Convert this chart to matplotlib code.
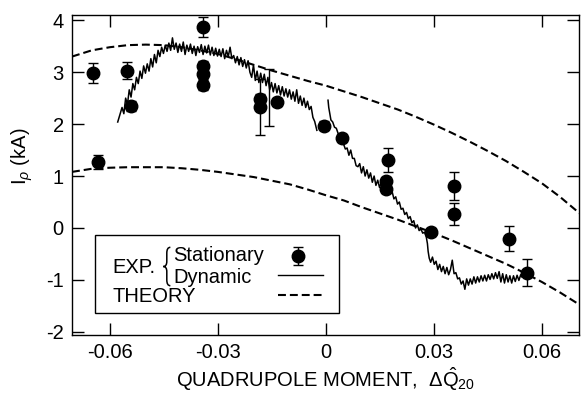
import numpy as np
import matplotlib
matplotlib.use("Agg")
from matplotlib import pyplot as plt
from matplotlib.path import Path
from matplotlib.patches import PathPatch

plt.rcParams['font.family'] = ['Liberation Sans', 'DejaVu Sans']
plt.rcParams['mathtext.fontset'] = 'custom'
plt.rcParams['mathtext.rm'] = 'Liberation Sans'
plt.rcParams['mathtext.it'] = 'Liberation Sans:italic'
plt.rcParams['axes.unicode_minus'] = False

# stationary measurements (x, y, y-error)
stat_x = [-0.0648, -0.0634, -0.0553, -0.0542, -0.0342, -0.0342, -0.0342, -0.0342,
          -0.0183, -0.0183, -0.0136, -0.0005, 0.0044, 0.0172, 0.0167, 0.0167,
          0.0356, 0.0356, 0.0292, 0.0508, 0.0558]
stat_y = [2.98, 1.27, 3.03, 2.35, 3.87, 3.12, 2.97, 2.75,
          2.48, 2.33, 2.42, 1.97, 1.73, 1.31, 0.90, 0.76,
          0.81, 0.27, -0.08, -0.21, -0.86]
stat_err = [0.19, 0.13, 0.17, 0.10, 0.20, 0.10, 0.10, 0.10,
            0.10, 0.54, 0.08, 0.08, 0.08, 0.23, 0.08, 0.08,
            0.27, 0.21, 0.08, 0.24, 0.26]

# lone error bar between the two points near -0.016
extra_x = [-0.0158]
extra_y = [2.51]
extra_err = [0.55]

# dynamic measurement, first sweep
dyn1_x = [-0.0578, -0.0572, -0.0566, -0.0561, -0.0556, -0.0551, -0.0546, -0.0541,
          -0.0536, -0.0531, -0.0526, -0.0521, -0.0516, -0.0511, -0.0506, -0.0501,
          -0.0496, -0.0491, -0.0486, -0.0481, -0.0476, -0.0471, -0.0466, -0.0461,
          -0.0456, -0.0451, -0.0446, -0.0441, -0.0436, -0.0431, -0.0426, -0.0421,
          -0.0416, -0.0411, -0.0406, -0.0401, -0.0396, -0.0391, -0.0386, -0.0381,
          -0.0376, -0.0371, -0.0366, -0.0361, -0.0356, -0.0351, -0.0346, -0.0341,
          -0.0336, -0.0331, -0.0326, -0.0321, -0.0316, -0.0311, -0.0306, -0.0301,
          -0.0296, -0.0291, -0.0286, -0.0281, -0.0276, -0.0271, -0.0266, -0.0261,
          -0.0256, -0.0251, -0.0246, -0.0241, -0.0236, -0.0231, -0.0226, -0.0221,
          -0.0216, -0.0211, -0.0206, -0.0201, -0.0196, -0.0191, -0.0186, -0.0181,
          -0.0176, -0.0171, -0.0166, -0.0161, -0.0156, -0.0151, -0.0146, -0.0141,
          -0.0136, -0.0131, -0.0126, -0.0121, -0.0116, -0.0111, -0.0106, -0.0101,
          -0.0096, -0.0091, -0.0086, -0.0081, -0.0076, -0.0071, -0.0066, -0.0061,
          -0.0056, -0.0051, -0.0046, -0.0041, -0.0036, -0.0031, -0.0025]
dyn1_y = [2.04, 2.18, 2.32, 2.20, 2.50, 2.38, 2.66, 2.52,
          2.78, 2.66, 2.90, 2.78, 3.02, 2.88, 3.12, 2.98,
          3.16, 3.02, 3.26, 3.10, 3.34, 3.18, 3.42, 3.30,
          3.48, 3.36, 3.52, 3.40, 3.56, 3.42, 3.66, 3.44,
          3.56, 3.38, 3.54, 3.40, 3.58, 3.34, 3.52, 3.40,
          3.54, 3.36, 3.50, 3.32, 3.49, 3.38, 3.53, 3.34,
          3.50, 3.37, 3.52, 3.33, 3.48, 3.32, 3.46, 3.31,
          3.44, 3.30, 3.45, 3.26, 3.42, 3.30, 3.48, 3.26,
          3.32, 3.18, 3.30, 3.14, 3.28, 3.11, 3.24, 3.08,
          3.22, 3.00, 2.90, 3.14, 2.84, 3.02, 2.80, 2.98,
          2.80, 2.96, 2.74, 2.90, 2.66, 2.80, 2.62, 2.78,
          2.60, 2.74, 2.56, 2.72, 2.54, 2.68, 2.52, 2.66,
          2.48, 2.62, 2.44, 2.66, 2.40, 2.54, 2.36, 2.50,
          2.32, 2.44, 2.28, 2.34, 2.13, 2.05, 1.88]

# dynamic measurement, second sweep
dyn2_x = [0.0006, 0.0008, 0.0011, 0.0014, 0.0019, 0.0024, 0.0029, 0.0034,
          0.0039, 0.0044, 0.0049, 0.0054, 0.0059, 0.0064, 0.0069, 0.0074,
          0.0079, 0.0084, 0.0089, 0.0094, 0.0099, 0.0104, 0.0109, 0.0114,
          0.0119, 0.0124, 0.0129, 0.0134, 0.0139, 0.0144, 0.0149, 0.0154,
          0.0159, 0.0164, 0.0169, 0.0174, 0.0179, 0.0184, 0.0189, 0.0194,
          0.0199, 0.0204, 0.0209, 0.0214, 0.0219, 0.0224, 0.0229, 0.0234,
          0.0239, 0.0244, 0.0249, 0.0254, 0.0259, 0.0264, 0.0269, 0.0274,
          0.0279, 0.0282, 0.0284, 0.0287, 0.0291, 0.0296, 0.0301, 0.0306,
          0.0311, 0.0316, 0.0321, 0.0326, 0.0331, 0.0336, 0.0341, 0.0346,
          0.0351, 0.0356, 0.0361, 0.0366, 0.0371, 0.0376, 0.0381, 0.0386,
          0.0391, 0.0396, 0.0401, 0.0406, 0.0411, 0.0416, 0.0421, 0.0426,
          0.0431, 0.0436, 0.0441, 0.0446, 0.0451, 0.0456, 0.0461, 0.0466,
          0.0471, 0.0476, 0.0481, 0.0486, 0.0491, 0.0496, 0.0501, 0.0506,
          0.0511, 0.0516, 0.0521, 0.0526, 0.0531, 0.0536, 0.0541, 0.0544]
dyn2_y = [2.46, 2.32, 2.20, 2.08, 2.04, 1.94, 1.92, 1.82,
          1.80, 1.68, 1.62, 1.52, 1.54, 1.40, 1.50, 1.34,
          1.34, 1.20, 1.18, 1.24, 1.06, 1.18, 1.00, 1.12,
          0.96, 1.06, 0.88, 1.00, 0.82, 0.92, 0.78, 0.88,
          0.74, 0.84, 0.70, 0.80, 0.66, 0.70, 0.56, 0.60,
          0.46, 0.50, 0.36, 0.38, 0.26, 0.30, 0.18, 0.22,
          0.10, 0.14, 0.00, 0.06, -0.05, -0.02, -0.10, -0.08,
          -0.18, -0.30, -0.45, -0.58, -0.66, -0.56, -0.70, -0.64,
          -0.80, -0.70, -0.84, -0.74, -0.88, -0.76, -0.90, -0.80,
          -0.62, -0.88, -0.86, -0.98, -0.96, -1.08, -1.02, -1.18,
          -0.98, -1.10, -0.98, -1.08, -0.94, -1.06, -0.94, -1.04,
          -0.92, -1.02, -0.91, -1.02, -0.90, -0.99, -0.88, -0.98,
          -0.86, -0.97, -0.84, -1.04, -0.88, -1.06, -0.90, -1.04,
          -0.92, -1.06, -0.92, -1.03, -0.91, -1.01, -0.90, -0.94]

# theory curves
th_x = [-0.0705, -0.065, -0.06, -0.055, -0.05, -0.045, -0.04, -0.035, -0.03,
        -0.025, -0.02, -0.015, -0.01, -0.005, 0.0, 0.005, 0.01, 0.015, 0.02,
        0.025, 0.03, 0.035, 0.04, 0.045, 0.05, 0.055, 0.06, 0.065, 0.0705]
th_upper = [3.30, 3.42, 3.48, 3.52, 3.53, 3.52, 3.48, 3.42, 3.35,
            3.25, 3.14, 3.03, 2.93, 2.83, 2.74, 2.63, 2.52, 2.40, 2.28,
            2.14, 1.99, 1.83, 1.66, 1.48, 1.29, 1.08, 0.86, 0.60, 0.28]
th_lower = [1.08, 1.14, 1.16, 1.17, 1.17, 1.17, 1.15, 1.12, 1.08,
            1.03, 0.98, 0.91, 0.84, 0.74, 0.63, 0.53, 0.40, 0.28, 0.16,
            0.03, -0.10, -0.24, -0.39, -0.54, -0.69, -0.86, -1.04, -1.24, -1.48]

xticks = [-0.06, -0.03, 0.0, 0.03, 0.06]
xtick_labels = ['-0.06', '-0.03', '0', '0.03', '0.06']
yticks = [-2, -1, 0, 1, 2, 3, 4]

fs = 14.5

fig = plt.figure(figsize=(5.81, 3.93), dpi=100)
ax = fig.add_axes([0.1239, 0.1476, 0.8727, 0.8142])

dash = (3.8, 1.9)
ax.plot(th_x, th_upper, color='black', lw=1.5, dashes=dash)
ax.plot(th_x, th_lower, color='black', lw=1.5, dashes=dash)

ax.plot(dyn1_x, dyn1_y, color='black', lw=1.1)
ax.plot(dyn2_x, dyn2_y, color='black', lw=1.1)

ax.errorbar(extra_x, extra_y, yerr=extra_err, fmt='none', ecolor='black',
            elinewidth=1.0, capsize=3.6, capthick=1.0)
ax.errorbar(stat_x, stat_y, yerr=stat_err, fmt='o', color='black', ms=9,
            ecolor='black', elinewidth=1.0, capsize=3.6, capthick=1.0)

ax.set_xlim(-0.0705, 0.0703)
ax.set_ylim(-2.06, 4.1)
ax.set_xticks(xticks)
ax.set_xticklabels(xtick_labels)
ax.set_yticks(yticks)
ax.tick_params(direction='in', length=8.5, width=1.0, top=True, right=True,
               labelsize=fs, pad=6)
for s in ax.spines.values():
    s.set_linewidth(1.0)

ax.set_xlabel(r'QUADRUPOLE MOMENT,  $\Delta\hat{\mathrm{Q}}_{20}$', fontsize=fs, labelpad=2)
ax.set_ylabel(r'I$_\rho$ (kA)', fontsize=fs)
ax.yaxis.set_label_coords(-0.072, 0.56)

# legend drawn by hand
tr = ax.transAxes
ax.add_patch(plt.Rectangle((0.045, 0.069), 0.482, 0.244, transform=tr,
                           facecolor='white', edgecolor='black', lw=1.0, zorder=5))
ax.text(0.079, 0.212, 'EXP.', transform=tr, fontsize=fs, va='center', zorder=6)
brace = Path([(0.194, 0.274), (0.187, 0.274), (0.187, 0.256), (0.187, 0.230),
              (0.187, 0.214), (0.180, 0.214), (0.187, 0.214), (0.187, 0.198),
              (0.187, 0.172), (0.187, 0.154), (0.194, 0.154)],
             [Path.MOVETO, Path.CURVE3, Path.CURVE3, Path.LINETO,
              Path.CURVE3, Path.CURVE3, Path.CURVE3, Path.CURVE3,
              Path.LINETO, Path.CURVE3, Path.CURVE3])
ax.add_patch(PathPatch(brace, transform=tr, facecolor='none', edgecolor='black',
                       lw=1.1, zorder=6))
ax.text(0.199, 0.247, 'Stationary', transform=tr, fontsize=fs, va='center', zorder=6)
ax.text(0.199, 0.181, 'Dynamic', transform=tr, fontsize=fs, va='center', zorder=6)
ax.text(0.079, 0.119, 'THEORY', transform=tr, fontsize=fs, va='center', zorder=6)
ax.errorbar([0.446], [0.247], yerr=[0.028], fmt='o', color='black', ms=9,
            elinewidth=1.0, capsize=3.6, transform=tr, zorder=6, clip_on=False)
ax.plot([0.406, 0.495], [0.1875, 0.1875], color='black', lw=1.0, transform=tr, zorder=6)
ax.plot([0.406, 0.495], [0.125, 0.125], color='black', lw=1.5, dashes=dash,
        transform=tr, zorder=6)

fig.savefig('out.png', dpi=100)
